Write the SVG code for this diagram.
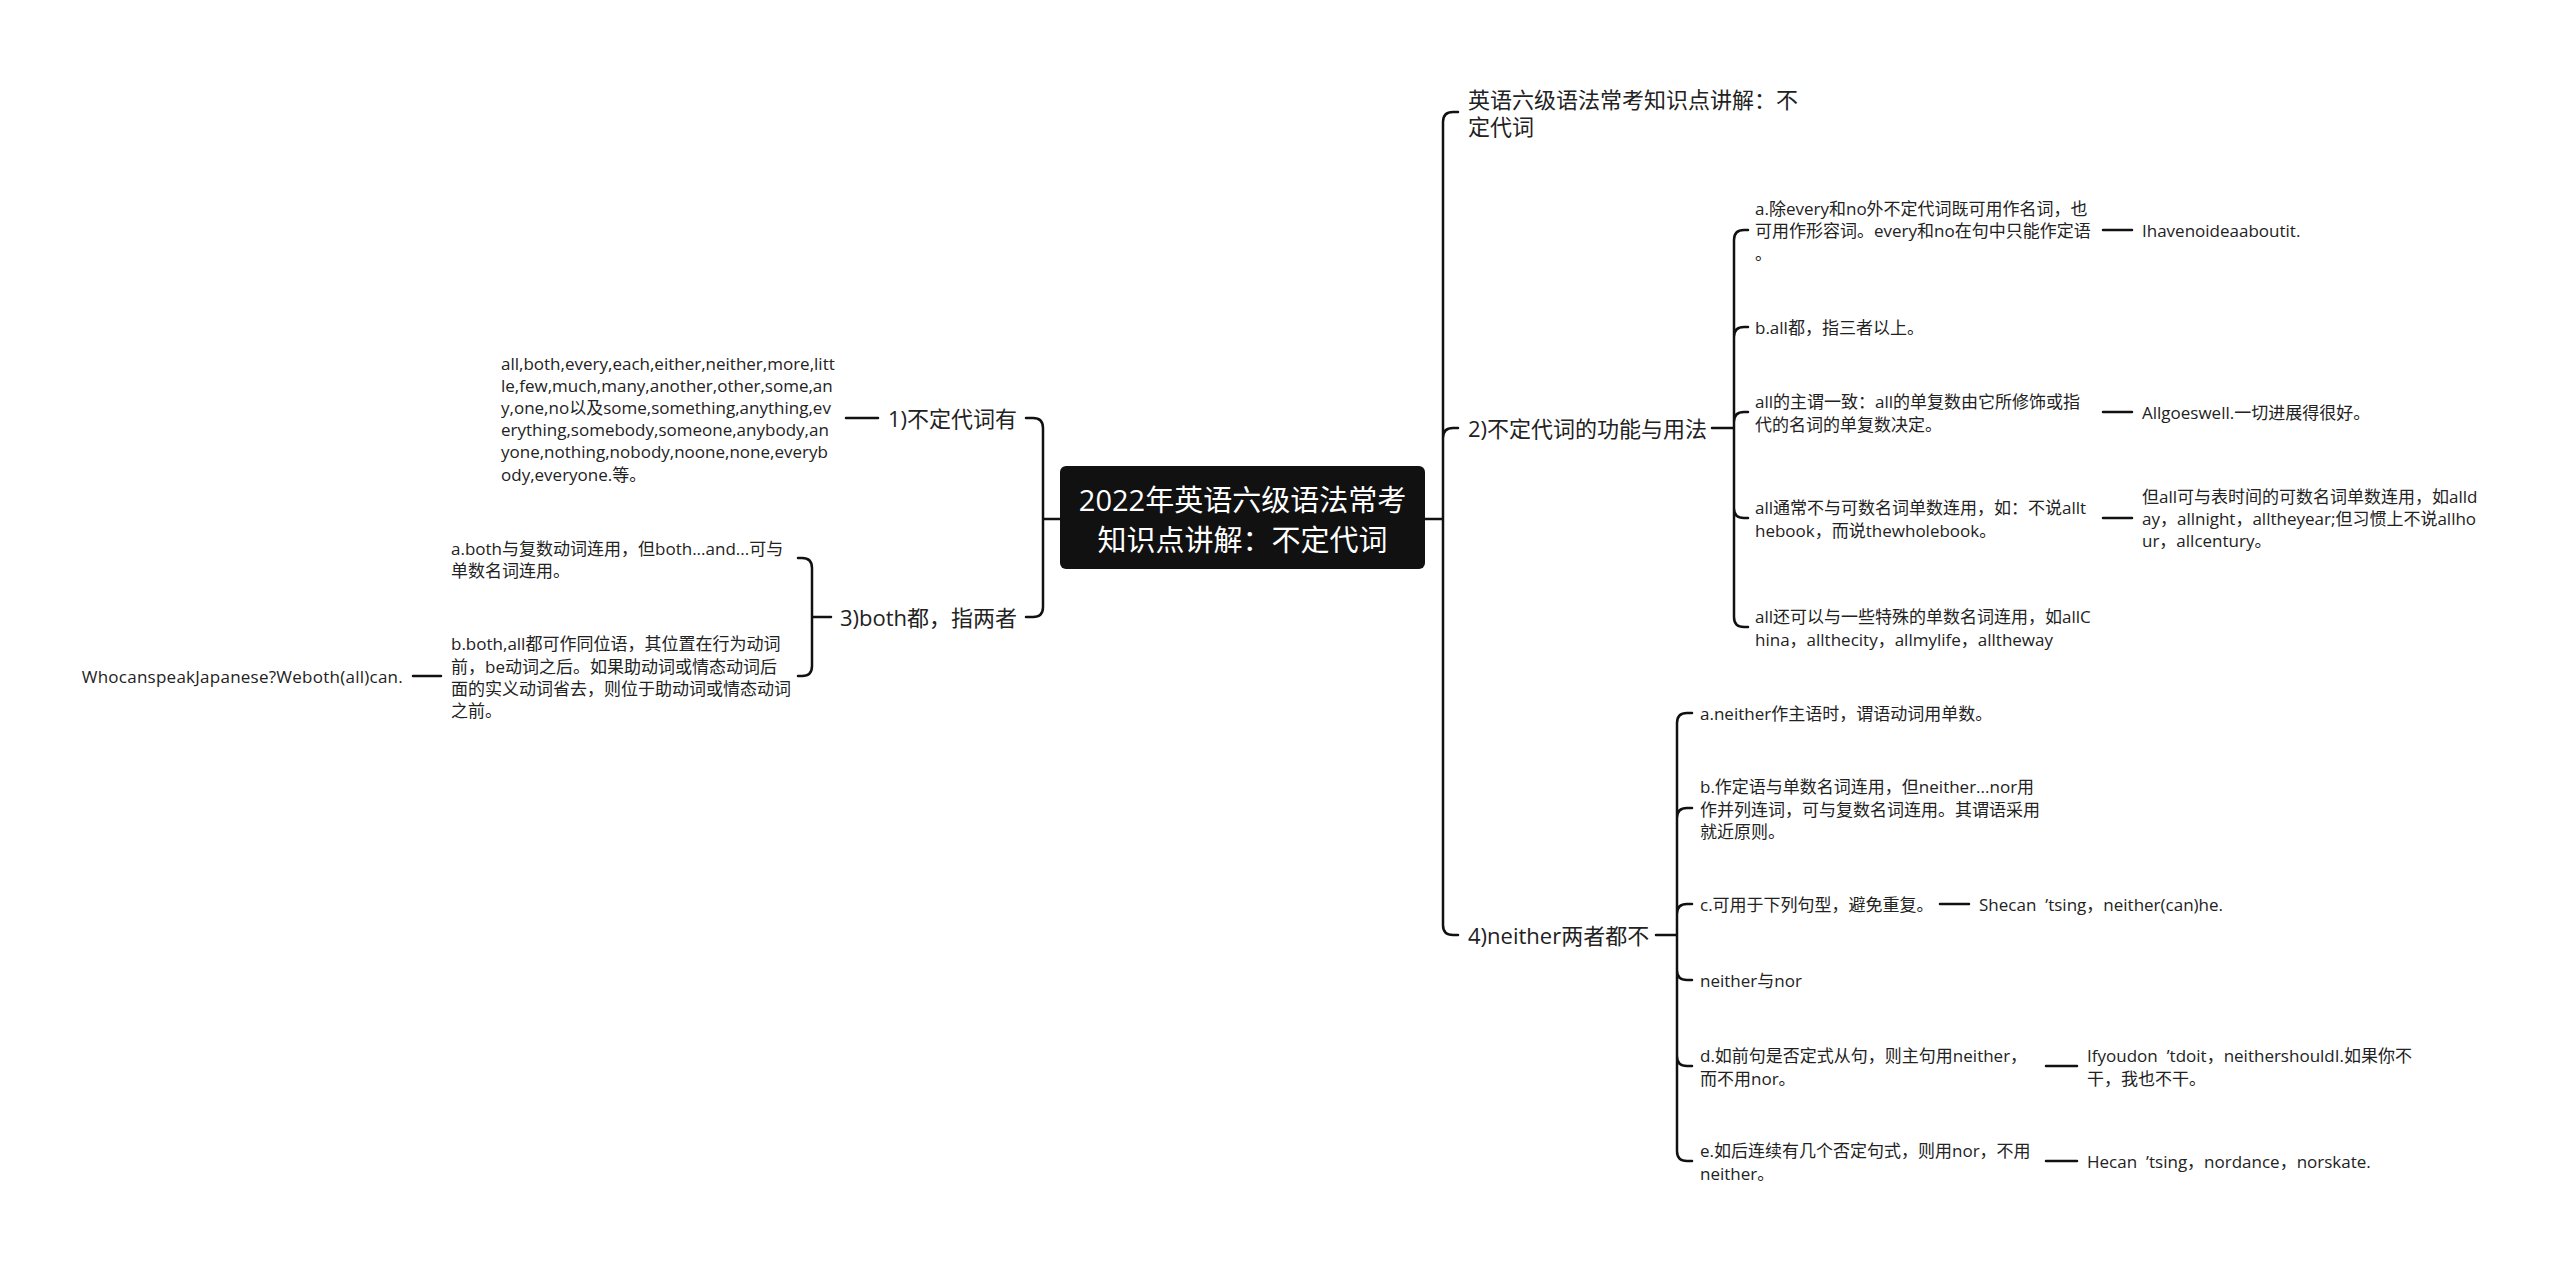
<svg xmlns="http://www.w3.org/2000/svg" width="2560" height="1264" viewBox="0 0 2560 1264">
<style>
.t{font-family:"Open Sans","Noto Sans CJK SC",sans-serif;fill:#222;dominant-baseline:central}
.leaf{font-size:17px}
.l1{font-size:22px}
.root{font-size:29px;fill:#fff;text-anchor:middle}
.e{text-anchor:end}
.c{fill:none;stroke:#111;stroke-width:2.5;stroke-linecap:round}
</style>
<rect width="2560" height="1264" fill="#fff"/>
<g id="connectors">
<path class="c" d="M1425,519 H1443 M1443,519 V122 Q1443,112 1453,112 H1458 M1443,519 V438 Q1443,428 1453,428 H1458 M1443,519 V925 Q1443,935 1453,935 H1458"/>
<path class="c" d="M1712,428 H1734 M1734,428 V240 Q1734,230 1744,230 H1748 M1734,428 V337 Q1734,327 1744,327 H1748 M1734,428 V422 Q1734,412 1744,412 H1748 M1734,428 V508 Q1734,518 1744,518 H1748 M1734,428 V617 Q1734,627 1744,627 H1748"/>
<path class="c" d="M2103,230 H2132 M2103,412 H2132 M2103,518 H2132"/>
<path class="c" d="M1656,935 H1677 M1677,935 V723 Q1677,713 1687,713 H1692 M1677,935 V818 Q1677,808 1687,808 H1692 M1677,935 V914 Q1677,904 1687,904 H1692 M1677,935 V970 Q1677,980 1687,980 H1692 M1677,935 V1056 Q1677,1066 1687,1066 H1692 M1677,935 V1151 Q1677,1161 1687,1161 H1692"/>
<path class="c" d="M1940,904 H1969 M2046,1066 H2077 M2046,1161 H2077"/>
<path class="c" d="M1060,519 H1043 M1043,519 V428 Q1043,418 1033,418 H1026 M1043,519 V607 Q1043,617 1033,617 H1026"/>
<path class="c" d="M878,418 H846"/>
<path class="c" d="M831,617 H812 M812,617 V568 Q812,558 802,558 H798 M812,617 V666 Q812,676 802,676 H798"/>
<path class="c" d="M441,676 H413"/>
</g>
<g id="root">
<rect x="1060" y="466" width="365" height="103" rx="6" fill="#111"/>
<text class="t root"><tspan x="1242.5" y="499">2022年英语六级语法常考</tspan><tspan x="1242.5" y="539">知识点讲解：不定代词</tspan></text>
</g>
<g id="n-top"><text class="t l1"><tspan x="1468" y="99">英语六级语法常考知识点讲解：不</tspan><tspan x="1468" y="126">定代词</tspan></text></g>
<g id="n2"><text class="t l1" x="1468" y="428">2)不定代词的功能与用法</text></g>
<g id="n2a"><text class="t leaf"><tspan x="1755" y="207.5">a.除every和no外不定代词既可用作名词，也</tspan><tspan x="1755" y="230">可用作形容词。every和no在句中只能作定语</tspan><tspan x="1755" y="252.5">。</tspan></text></g>
<g id="n2a1"><text class="t leaf" x="2142" y="230">Ihavenoideaaboutit.</text></g>
<g id="n2b"><text class="t leaf" x="1755" y="327">b.all都，指三者以上。</text></g>
<g id="n2c"><text class="t leaf"><tspan x="1755" y="401">all的主谓一致：all的单复数由它所修饰或指</tspan><tspan x="1755" y="423.5">代的名词的单复数决定。</tspan></text></g>
<g id="n2c1"><text class="t leaf" x="2142" y="412">Allgoeswell.一切进展得很好。</text></g>
<g id="n2d"><text class="t leaf"><tspan x="1755" y="507">all通常不与可数名词单数连用，如：不说allt</tspan><tspan x="1755" y="529.5">hebook，而说thewholebook。</tspan></text></g>
<g id="n2d1"><text class="t leaf"><tspan x="2142" y="496">但all可与表时间的可数名词单数连用，如alld</tspan><tspan x="2142" y="518">ay，allnight，alltheyear;但习惯上不说allho</tspan><tspan x="2142" y="540">ur，allcentury。</tspan></text></g>
<g id="n2e"><text class="t leaf"><tspan x="1755" y="616">all还可以与一些特殊的单数名词连用，如allC</tspan><tspan x="1755" y="638.5">hina，allthecity，allmylife，alltheway</tspan></text></g>
<g id="n4"><text class="t l1" x="1468" y="935">4)neither两者都不</text></g>
<g id="n4a"><text class="t leaf" x="1700" y="713">a.neither作主语时，谓语动词用单数。</text></g>
<g id="n4b"><text class="t leaf"><tspan x="1700" y="786">b.作定语与单数名词连用，但neither...nor用</tspan><tspan x="1700" y="808.5">作并列连词，可与复数名词连用。其谓语采用</tspan><tspan x="1700" y="831">就近原则。</tspan></text></g>
<g id="n4c"><text class="t leaf" x="1700" y="904">c.可用于下列句型，避免重复。</text></g>
<g id="n4c1"><text class="t leaf" x="1979" y="904">Shecan<tspan dx="9">’</tspan>tsing，neither(can)he.</text></g>
<g id="n4n"><text class="t leaf" x="1700" y="980">neither与nor</text></g>
<g id="n4d"><text class="t leaf"><tspan x="1700" y="1055">d.如前句是否定式从句，则主句用neither，</tspan><tspan x="1700" y="1077.5">而不用nor。</tspan></text></g>
<g id="n4d1"><text class="t leaf"><tspan x="2087" y="1055">Ifyoudon<tspan dx="9">’</tspan>tdoit，neithershouldI.如果你不</tspan><tspan x="2087" y="1077.5">干，我也不干。</tspan></text></g>
<g id="n4e"><text class="t leaf"><tspan x="1700" y="1150">e.如后连续有几个否定句式，则用nor，不用</tspan><tspan x="1700" y="1172.5">neither。</tspan></text></g>
<g id="n4e1"><text class="t leaf" x="2087" y="1161">Hecan<tspan dx="9">’</tspan>tsing，nordance，norskate.</text></g>
<g id="n1"><text class="t l1 e" x="1017" y="418">1)不定代词有</text></g>
<g id="n1a"><text class="t leaf"><tspan x="501" y="362.5">all,both,every,each,either,neither,more,litt</tspan><tspan x="501" y="384.7">le,few,much,many,another,other,some,an</tspan><tspan x="501" y="406.9">y,one,no以及some,something,anything,ev</tspan><tspan x="501" y="429.1">erything,somebody,someone,anybody,an</tspan><tspan x="501" y="451.3">yone,nothing,nobody,noone,none,everyb</tspan><tspan x="501" y="473.5">ody,everyone.等。</tspan></text></g>
<g id="n3"><text class="t l1 e" x="1017" y="617">3)both都，指两者</text></g>
<g id="n3a"><text class="t leaf"><tspan x="451" y="547.5">a.both与复数动词连用，但both...and...可与</tspan><tspan x="451" y="570">单数名词连用。</tspan></text></g>
<g id="n3b"><text class="t leaf"><tspan x="451" y="643">b.both,all都可作同位语，其位置在行为动词</tspan><tspan x="451" y="665.5">前，be动词之后。如果助动词或情态动词后</tspan><tspan x="451" y="687.5">面的实义动词省去，则位于助动词或情态动词</tspan><tspan x="451" y="709.5">之前。</tspan></text></g>
<g id="n3b1"><text class="t leaf e" x="403" y="676" style="letter-spacing:0.25px">WhocanspeakJapanese?Weboth(all)can.</text></g>
</svg>
